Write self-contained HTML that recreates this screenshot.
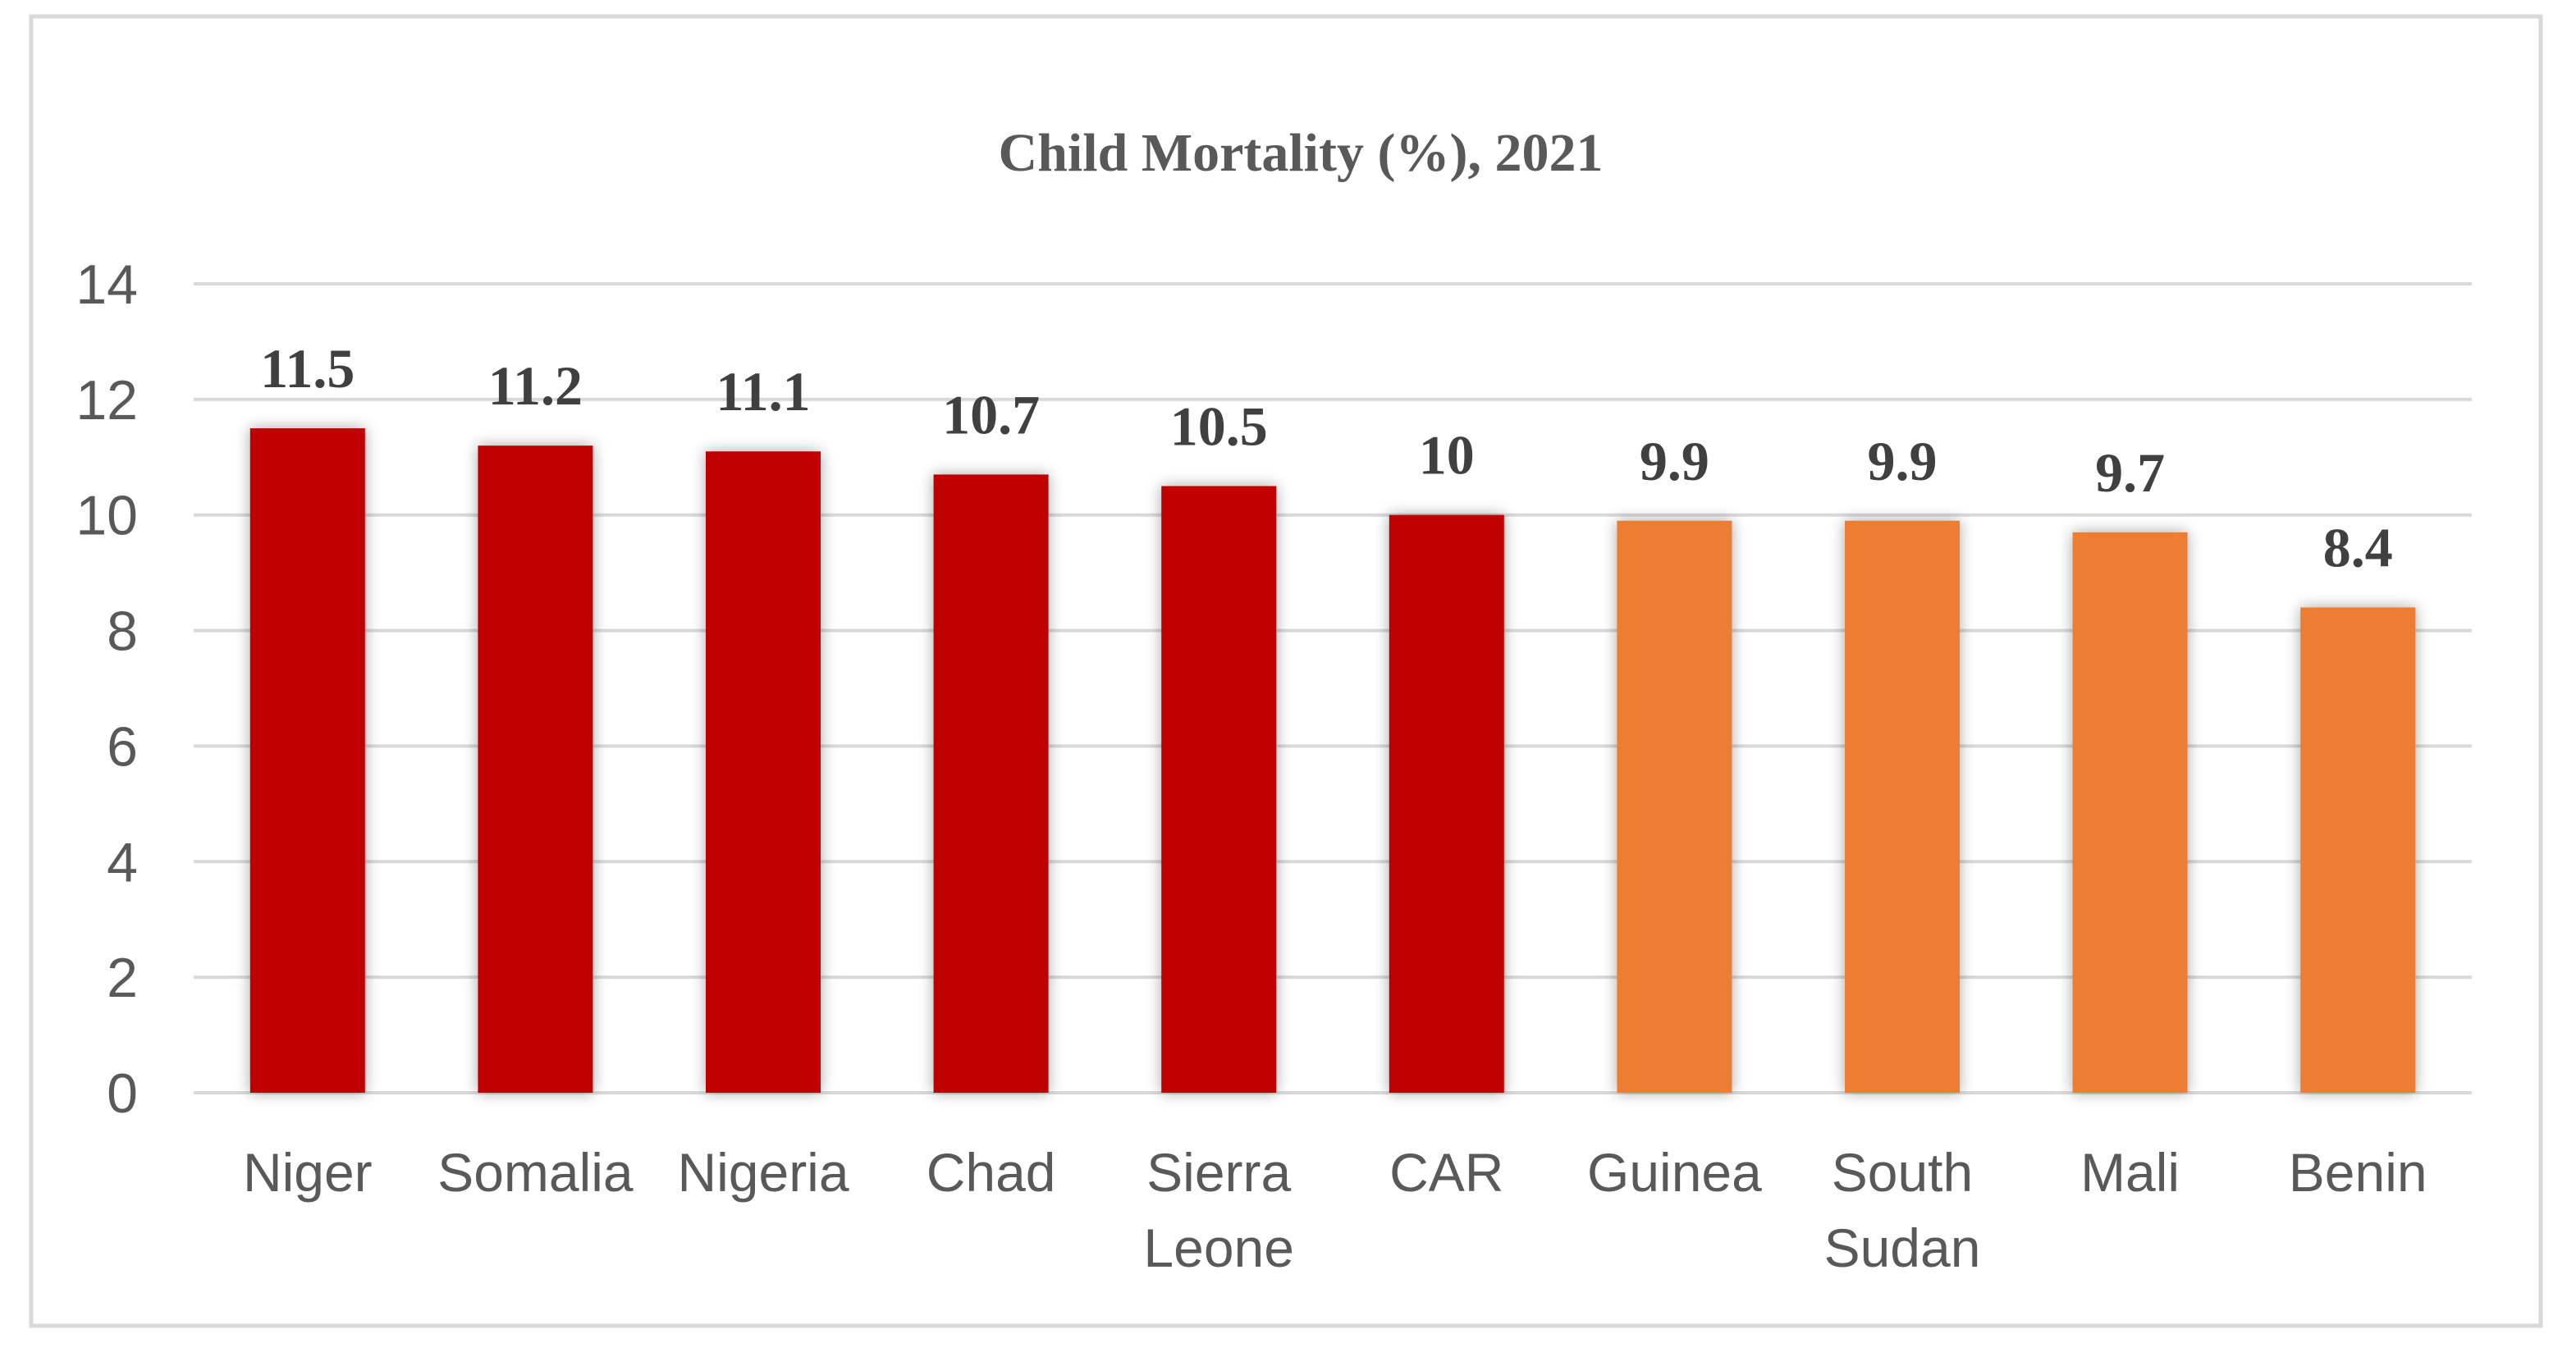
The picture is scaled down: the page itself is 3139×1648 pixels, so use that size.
<!DOCTYPE html>
<html><head><meta charset="utf-8"><style>
html,body{margin:0;padding:0;background:#fff;}
svg{display:block;}
</style></head><body>
<svg id="chart" width="3139" height="1648" viewBox="0 0 3139 1648" xmlns="http://www.w3.org/2000/svg">
<defs>
<filter id="sh" x="-30%" y="-10%" width="160%" height="120%">
<feGaussianBlur in="SourceAlpha" stdDeviation="9"/>
<feComponentTransfer><feFuncA type="linear" slope="0.35"/></feComponentTransfer>
<feMerge><feMergeNode/><feMergeNode in="SourceGraphic"/></feMerge>
</filter>
</defs>
<rect x="38" y="20" width="3058" height="1596" fill="#fff" stroke="#d9d9d9" stroke-width="5"/>
<text x="1585" y="208" text-anchor="middle" font-family="Liberation Serif, serif" font-weight="bold" font-size="66" fill="#595959">Child Mortality (%), 2021</text>
<g id="grid"></g><g id="bars"></g><g id="labels"></g>
</svg>
<script>
const categories=[["Niger"],["Somalia"],["Nigeria"],["Chad"],["Sierra","Leone"],["CAR"],["Guinea"],["South","Sudan"],["Mali"],["Benin"]];
const values=[11.5,11.2,11.1,10.7,10.5,10,9.9,9.9,9.7,8.4];
const valueLabels=["11.5","11.2","11.1","10.7","10.5","10","9.9","9.9","9.7","8.4"];
const barColors=["#C00000","#C00000","#C00000","#C00000","#C00000","#C00000","#ED7D31","#ED7D31","#ED7D31","#ED7D31"];
const yTicks=[0,2,4,6,8,10,12,14];
const NS="http://www.w3.org/2000/svg";
const X0=236,X1=3012,Y0=1332,Y1=346,YMAX=14;
const slot=(X1-X0)/categories.length;
const y=v=>Y0-(v/YMAX)*(Y0-Y1);
const xc=i=>X0+slot*(i+0.5);
function mk(t,a,p){const e=document.createElementNS(NS,t);for(const k in a)e.setAttribute(k,a[k]);p.appendChild(e);return e;}
const grid=document.getElementById('grid'),bars=document.getElementById('bars'),labels=document.getElementById('labels');
yTicks.forEach(t=>{
 const l=mk('line',{x1:X0,x2:X1,y1:y(t),y2:y(t),stroke:'#d9d9d9','stroke-width':4},grid);
 
 
 const tx=mk('text',{x:168,y:y(t)+24,'text-anchor':'end','font-family':'Liberation Sans, sans-serif','font-size':68,fill:'#595959'},labels);
 tx.textContent=t;
 
 
});
const bw=140;
values.forEach((v,i)=>{
 const r=mk('rect',{x:xc(i)-bw/2,y:y(v),width:bw,height:Y0-y(v),fill:barColors[i],filter:'url(#sh)'},bars);
 
 
 const vl=mk('text',{x:xc(i),y:y(v)-50,'text-anchor':'middle','font-family':'Liberation Serif, serif','font-weight':'bold','font-size':68,fill:'#404040'},labels);
 vl.textContent=valueLabels[i];
 
 
 categories[i].forEach((line,j)=>{
  const c=mk('text',{x:xc(i),y:1452+j*92,'text-anchor':'middle','font-family':'Liberation Sans, sans-serif','font-size':66,fill:'#595959'},labels);
  c.textContent=line;
  
  
 });
});
</script>
</body></html>
